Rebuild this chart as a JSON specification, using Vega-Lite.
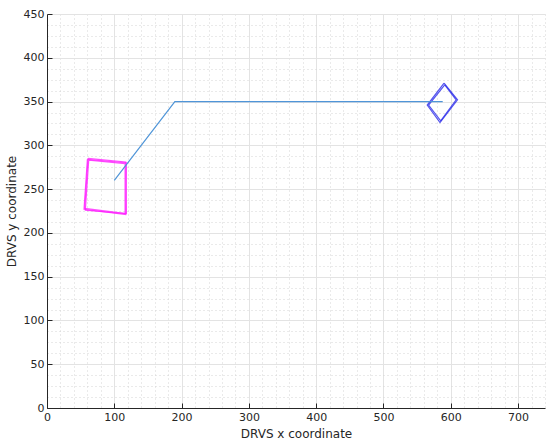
{
  "$schema": "https://vega.github.io/schema/vega-lite/v6.json",
  "width": 498,
  "height": 394,
  "autosize": {"type": "none"},
  "padding": {"left": 47, "top": 14, "right": 1, "bottom": 32},
  "background": "white",
  "config": {
    "view": {"stroke": null},
    "axis": {
      "labelFont": "DejaVu Sans",
      "titleFont": "DejaVu Sans",
      "labelFontSize": 11,
      "titleFontSize": 12,
      "titleFontWeight": "normal",
      "labelColor": "#262626",
      "titleColor": "#262626",
      "domainColor": "#262626",
      "tickColor": "#262626",
      "labelFlush": false
    }
  },
  "data": {
    "values": [
      {"series": "path", "trace": "p", "order": 1, "x": 100, "y": 260},
      {"series": "path", "trace": "p", "order": 2, "x": 190, "y": 350},
      {"series": "path", "trace": "p", "order": 3, "x": 588, "y": 350},

      {"series": "square", "trace": "s1", "order": 1, "x": 60, "y": 284},
      {"series": "square", "trace": "s1", "order": 2, "x": 118, "y": 280},
      {"series": "square", "trace": "s1", "order": 3, "x": 117, "y": 221},
      {"series": "square", "trace": "s1", "order": 4, "x": 55, "y": 227},
      {"series": "square", "trace": "s1", "order": 5, "x": 60, "y": 284},
      {"series": "square", "trace": "s2", "order": 1, "x": 62, "y": 283},
      {"series": "square", "trace": "s2", "order": 2, "x": 116, "y": 279},
      {"series": "square", "trace": "s2", "order": 3, "x": 116, "y": 222},
      {"series": "square", "trace": "s2", "order": 4, "x": 57, "y": 226},
      {"series": "square", "trace": "s2", "order": 5, "x": 62, "y": 283},
      {"series": "square", "trace": "s3", "order": 1, "x": 61, "y": 285},
      {"series": "square", "trace": "s3", "order": 2, "x": 117, "y": 281},
      {"series": "square", "trace": "s3", "order": 3, "x": 118, "y": 222},
      {"series": "square", "trace": "s3", "order": 4, "x": 56, "y": 228},
      {"series": "square", "trace": "s3", "order": 5, "x": 61, "y": 285},

      {"series": "diamond", "trace": "d1", "order": 1, "x": 590, "y": 371},
      {"series": "diamond", "trace": "d1", "order": 2, "x": 610, "y": 352},
      {"series": "diamond", "trace": "d1", "order": 3, "x": 584, "y": 326},
      {"series": "diamond", "trace": "d1", "order": 4, "x": 565, "y": 346},
      {"series": "diamond", "trace": "d1", "order": 5, "x": 590, "y": 371},
      {"series": "diamond", "trace": "d2", "order": 1, "x": 591, "y": 369},
      {"series": "diamond", "trace": "d2", "order": 2, "x": 608, "y": 352},
      {"series": "diamond", "trace": "d2", "order": 3, "x": 585, "y": 328},
      {"series": "diamond", "trace": "d2", "order": 4, "x": 567, "y": 346},
      {"series": "diamond", "trace": "d2", "order": 5, "x": 591, "y": 369}
    ]
  },
  "encoding": {
    "color": {
      "field": "series",
      "type": "nominal",
      "scale": {"domain": ["path", "square", "diamond"], "range": ["#4f95d8", "#ff1aff", "#1c1ce8"]},
      "legend": null
    },
    "detail": {"field": "trace"},
    "order": {"field": "order", "type": "quantitative"}
  },
  "layer": [
    {
      "transform": [{"filter": "datum.series != 'path'"}],
      "mark": {"type": "line", "strokeWidth": 1.2, "opacity": 0.75},
      "encoding": {
        "x": {
          "field": "x", "type": "quantitative",
          "scale": {"domain": [0, 740], "nice": false, "zero": false},
          "axis": {
            "orient": "bottom",
            "values": [20, 40, 60, 80, 120, 140, 160, 180, 220, 240, 260, 280, 320, 340, 360, 380, 420, 440, 460, 480, 520, 540, 560, 580, 620, 640, 660, 680, 720, 740],
            "grid": true, "gridColor": "#d4d4d4", "gridDash": [1, 3], "gridWidth": 1,
            "labels": false, "ticks": false, "domain": false, "title": null
          }
        },
        "y": {
          "field": "y", "type": "quantitative",
          "scale": {"domain": [0, 450], "nice": false, "zero": false},
          "axis": {
            "orient": "left",
            "values": [12.5, 25, 37.5, 62.5, 75, 87.5, 112.5, 125, 137.5, 162.5, 175, 187.5, 212.5, 225, 237.5, 262.5, 275, 287.5, 312.5, 325, 337.5, 362.5, 375, 387.5, 412.5, 425, 437.5],
            "grid": true, "gridColor": "#d4d4d4", "gridDash": [1, 3], "gridWidth": 1,
            "labels": false, "ticks": false, "domain": false, "title": null
          }
        }
      }
    },
    {
      "transform": [{"filter": "datum.series == 'path'"}],
      "mark": {"type": "line", "strokeWidth": 1.2},
      "encoding": {
        "x": {
          "field": "x", "type": "quantitative",
          "axis": {
            "orient": "bottom",
            "values": [0, 100, 200, 300, 400, 500, 600, 700],
            "grid": true, "gridColor": "#e3e3e3", "gridWidth": 1,
            "tickSize": -5, "labelPadding": 8, "tickWidth": 1,
            "title": "DRVS x coordinate", "titlePadding": 6
          }
        },
        "y": {
          "field": "y", "type": "quantitative",
          "axis": {
            "orient": "left",
            "values": [0, 50, 100, 150, 200, 250, 300, 350, 400, 450],
            "grid": true, "gridColor": "#e3e3e3", "gridWidth": 1,
            "tickSize": -5, "labelPadding": 8, "tickWidth": 1,
            "title": "DRVS y coordinate", "titlePadding": 5
          }
        }
      }
    }
  ],
  "resolve": {"axis": {"x": "independent", "y": "independent"}}
}
